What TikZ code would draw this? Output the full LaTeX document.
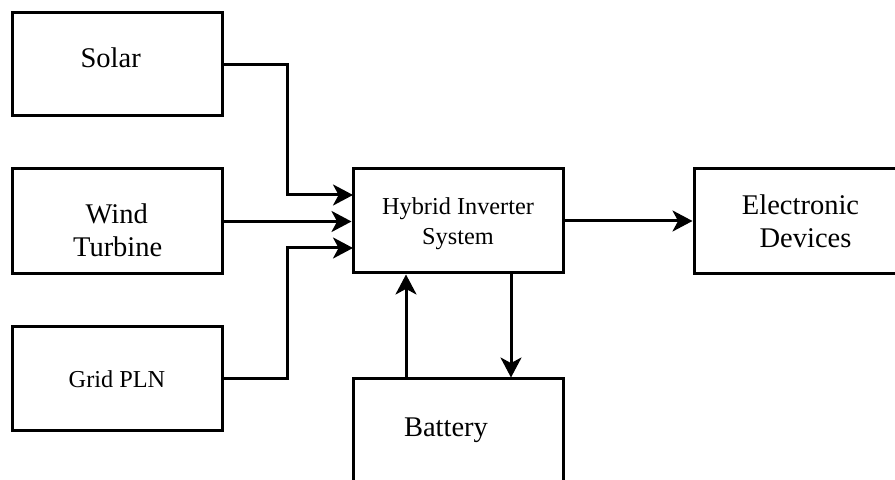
\documentclass[tikz,border=0pt]{standalone}
\usepackage{fontspec}
\setmainfont{Liberation Serif}
\usetikzlibrary{arrows.meta}
\begin{document}
\begin{tikzpicture}[x=0.5pt,y=-0.5pt,
  box/.style={draw, line width=1.5pt, inner sep=0pt, minimum width=105pt},
  big/.style={font=\fontsize{14.25pt}{17pt}\selectfont, anchor=base, inner sep=0pt},
  small/.style={font=\fontsize{12.15pt}{14.5pt}\selectfont, anchor=base, inner sep=0pt},
  arr/.style={line width=1.5pt, -{Stealth[length=10pt, width=10.5pt, inset=2.8pt]}},
  conn/.style={line width=1.5pt}]
\useasboundingbox (0,0) rectangle (895,480);
\clip (0,0) rectangle (895,480);
% boxes
\node[box, minimum height=51.5pt] (solar) at (117,64.5) {};
\node[box, minimum height=52.5pt] (wind) at (117,221.5) {};
\node[box, minimum height=52pt] (grid) at (117,379) {};
\node[box, minimum height=52pt] (hyb) at (458,221) {};
\node[box, minimum height=52.5pt, minimum width=123pt] (elec) at (817,221.5) {};
\node[box, minimum height=52.5pt] (bat) at (458,431.5) {};
% texts
\node[big] (solart) at (110.7,68) {Solar};
\node[big] (windt1) at (116.7,224) {Wind};
\node[big] (windt2) at (117.7,256.7) {Turbine};
\node[small] (gridt) at (117,388) {Grid PLN};
\node[small] (hybt1) at (458,215) {Hybrid Inverter};
\node[small] (hybt2) at (458,245) {System};
\node[big] (elect1) at (800.5,215) {Electronic};
\node[big] (elect2) at (805.5,248) {Devices};
\node[big] (batt) at (446,437) {Battery};
% helper coordinates
\coordinate (hin1) at (353,195);
\coordinate (hin3) at (353,248);
\coordinate (bx) at (287,0);
\coordinate (bu) at (406,0);
\coordinate (bd) at (511,0);
% connectors
\draw[arr] (solar.east) -| (bx |- hin1) -- (hin1);
\draw[arr] (wind.east) -- (wind.east -| hyb.west);
\draw[arr] (grid.east) -| (bx |- hin3) -- (hin3);
\draw[arr] (hyb.east) -- (hyb.east -| elec.west);
\draw[arr] (bat.north -| bu) -- (hyb.south -| bu);
\draw[arr] (hyb.south -| bd) -- (bat.north -| bd);
\end{tikzpicture}
\end{document}
